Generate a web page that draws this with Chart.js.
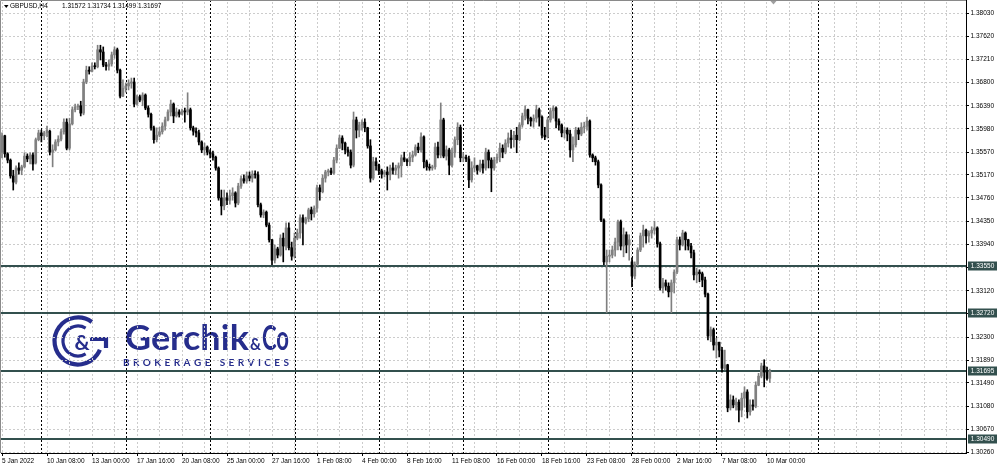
<!DOCTYPE html>
<html>
<head>
<meta charset="utf-8">
<script src="https://cdn.jsdelivr.net/npm/chart.js@4.4.1/dist/chart.umd.min.js"></script>
<style>
  html, body { margin: 0; padding: 0; background: #fff; }
  #wrap { width: 1000px; height: 469px; }
</style>
</head>
<body>
<div id="wrap"><canvas id="chart" width="1000" height="469"></canvas></div>
<script>
// ---- data ----
const symbol = 'GBPUSD,H4';

// x labels, one every 16 H4 bars starting at bar 0
const timeLabels = ['5 Jan 2022', '10 Jan 08:00', '13 Jan 00:00', '17 Jan 16:00', '20 Jan 08:00',
  '25 Jan 00:00', '27 Jan 16:00', '1 Feb 08:00', '4 Feb 00:00', '8 Feb 16:00', '11 Feb 08:00',
  '16 Feb 00:00', '18 Feb 16:00', '23 Feb 08:00', '28 Feb 00:00', '2 Mar 16:00', '7 Mar 08:00',
  '10 Mar 00:00'];
const labelStep = 16;
const gridStep = 8;
const gridEnd = 336;

// weekly period separators (bar index)
const weekStarts = [14, 44, 74, 104, 134, 164, 194, 224, 254, 290];

// price axis
const priceTicks = [1.38030, 1.37620, 1.37210, 1.36800, 1.36390, 1.35980, 1.35570, 1.35170,
  1.34760, 1.34350, 1.33940, 1.33530, 1.33120, 1.32710, 1.32300, 1.31890, 1.31490, 1.31080,
  1.30670, 1.30260];
const hiddenTicks = [1.33530, 1.32710];
const levels = [1.33550, 1.32720, 1.31695, 1.30490];

const open = [
  1.3557, 1.3586, 1.3554, 1.3543, 1.3515, 1.3504, 1.3529, 1.3525, 1.3531, 1.3550,
  1.3545, 1.3552, 1.3538, 1.3579, 1.3591, 1.3586, 1.3591, 1.3594, 1.3557, 1.3561,
  1.3575, 1.3580, 1.3593, 1.3610, 1.3564, 1.3607, 1.3632, 1.3637, 1.3639, 1.3626,
  1.3681, 1.3702, 1.3700, 1.3709, 1.3708, 1.3738, 1.3734, 1.3711, 1.3709, 1.3713,
  1.3729, 1.3738, 1.3702, 1.3656, 1.3670, 1.3674, 1.3679, 1.3681, 1.3642, 1.3655,
  1.3649, 1.3658, 1.3635, 1.3624, 1.3600, 1.3579, 1.3587, 1.3593, 1.3603, 1.3614,
  1.3628, 1.3642, 1.3621, 1.3628, 1.3624, 1.3630, 1.3628, 1.3632, 1.3600, 1.3594,
  1.3591, 1.3575, 1.3561, 1.3566, 1.3557, 1.3554, 1.3548, 1.3529, 1.3476, 1.3462,
  1.3476, 1.3472, 1.3480, 1.3485, 1.3467, 1.3497, 1.3510, 1.3506, 1.3515, 1.3511,
  1.3518, 1.3517, 1.3464, 1.3446, 1.3451, 1.3428, 1.3402, 1.3366, 1.3386, 1.3375,
  1.3405, 1.3391, 1.3423, 1.3388, 1.3373, 1.3405, 1.3414, 1.3441, 1.3433, 1.3439,
  1.3455, 1.3448, 1.3458, 1.3494, 1.3487, 1.3511, 1.3522, 1.3524, 1.3520, 1.3543,
  1.3564, 1.3582, 1.3573, 1.3561, 1.3557, 1.3534, 1.3614, 1.3596, 1.3605, 1.3610,
  1.3600, 1.3568, 1.3511, 1.3540, 1.3533, 1.3524, 1.3518, 1.3522, 1.3517, 1.3529,
  1.3525, 1.3529, 1.3533, 1.3547, 1.3543, 1.3540, 1.3548, 1.3552, 1.3566, 1.3561,
  1.3584, 1.3540, 1.3531, 1.3529, 1.3531, 1.3566, 1.3552, 1.3614, 1.3550, 1.3561,
  1.3534, 1.3556, 1.3579, 1.3601, 1.3547, 1.3548, 1.3545, 1.3508, 1.3529, 1.3533,
  1.3525, 1.3536, 1.3529, 1.3557, 1.3543, 1.3529, 1.3543, 1.3548, 1.3564, 1.3557,
  1.3573, 1.3582, 1.3579, 1.3587, 1.3579, 1.3605, 1.3621, 1.3632, 1.3617, 1.3612,
  1.3617, 1.3632, 1.3619, 1.3587, 1.3584, 1.3614, 1.3630, 1.3635, 1.3612, 1.3605,
  1.3591, 1.3596, 1.3589, 1.3561, 1.3570, 1.3596, 1.3589, 1.3601, 1.3603, 1.3612,
  1.3552, 1.3547, 1.3540, 1.3499, 1.3437, 1.3363, 1.3373, 1.3375, 1.3384, 1.3398,
  1.3434, 1.3391, 1.3411, 1.3393, 1.3363, 1.3338, 1.3359, 1.3384, 1.3409, 1.3419,
  1.3409, 1.3414, 1.3419, 1.3423, 1.3395, 1.3317, 1.3326, 1.3320, 1.3310, 1.3326,
  1.3345, 1.3402, 1.3393, 1.3414, 1.3402, 1.3391, 1.3379, 1.3340, 1.3345, 1.3342,
  1.3331, 1.3306, 1.3232, 1.3243, 1.3216, 1.3221, 1.3207, 1.3175, 1.3181, 1.3105,
  1.3119, 1.3110, 1.3115, 1.3101, 1.3122, 1.3133, 1.3098, 1.3110, 1.3108, 1.3145,
  1.3161, 1.3179, 1.3168, 1.31572];

const high = [
  1.3591, 1.3587, 1.3556, 1.3545, 1.3525, 1.3533, 1.3538, 1.3534, 1.3556, 1.3554,
  1.3556, 1.3556, 1.3582, 1.3596, 1.3596, 1.3594, 1.3603, 1.3596, 1.3570, 1.3579,
  1.3586, 1.3598, 1.3616, 1.3616, 1.3617, 1.3637, 1.3642, 1.3642, 1.3647, 1.3686,
  1.3709, 1.3708, 1.3715, 1.3715, 1.3746, 1.3746, 1.3743, 1.3716, 1.3720, 1.3734,
  1.3743, 1.3741, 1.3704, 1.3685, 1.3679, 1.3685, 1.3688, 1.3688, 1.3658, 1.3658,
  1.3662, 1.3660, 1.3639, 1.3626, 1.3603, 1.3600, 1.3601, 1.3609, 1.3619, 1.3632,
  1.3649, 1.3644, 1.3635, 1.3632, 1.3633, 1.3635, 1.3662, 1.3635, 1.3603, 1.3600,
  1.3596, 1.3577, 1.3573, 1.3568, 1.3561, 1.3559, 1.3550, 1.3531, 1.3490, 1.3490,
  1.3485, 1.3490, 1.3494, 1.3487, 1.3502, 1.3515, 1.3517, 1.3522, 1.3522, 1.3524,
  1.3524, 1.3522, 1.3467, 1.3455, 1.3453, 1.3432, 1.3403, 1.3393, 1.3389, 1.3411,
  1.3414, 1.3432, 1.3432, 1.3398, 1.3414, 1.3421, 1.3446, 1.3446, 1.3442, 1.3458,
  1.3460, 1.3462, 1.3499, 1.3499, 1.3517, 1.3525, 1.3527, 1.3529, 1.3548, 1.3570,
  1.3587, 1.3586, 1.3575, 1.3566, 1.3561, 1.3628, 1.3619, 1.3610, 1.3614, 1.3616,
  1.3601, 1.3579, 1.3548, 1.3547, 1.3536, 1.3527, 1.3525, 1.3531, 1.3534, 1.3538,
  1.3534, 1.3538, 1.3552, 1.3557, 1.3545, 1.3556, 1.3559, 1.3570, 1.3573, 1.3591,
  1.3586, 1.3543, 1.3536, 1.3534, 1.3573, 1.3575, 1.3644, 1.3617, 1.3568, 1.3564,
  1.3564, 1.3584, 1.3609, 1.3605, 1.3556, 1.3552, 1.3550, 1.3540, 1.3547, 1.3534,
  1.3543, 1.3543, 1.3564, 1.3561, 1.3547, 1.3548, 1.3554, 1.3573, 1.3570, 1.3579,
  1.3591, 1.3596, 1.3594, 1.3601, 1.3609, 1.3626, 1.3639, 1.3633, 1.3619, 1.3623,
  1.3640, 1.3635, 1.3621, 1.3601, 1.3619, 1.3635, 1.3639, 1.3637, 1.3616, 1.3607,
  1.3601, 1.3600, 1.3596, 1.3584, 1.3601, 1.3600, 1.3609, 1.3610, 1.3619, 1.3614,
  1.3554, 1.3550, 1.3543, 1.3501, 1.3439, 1.3384, 1.3384, 1.3391, 1.3405, 1.3437,
  1.3437, 1.3423, 1.3416, 1.3411, 1.3370, 1.3363, 1.3388, 1.3414, 1.3428, 1.3421,
  1.3418, 1.3425, 1.3435, 1.3425, 1.3398, 1.3334, 1.3331, 1.3326, 1.3331, 1.3349,
  1.3407, 1.3407, 1.3419, 1.3416, 1.3403, 1.3396, 1.3384, 1.3352, 1.3349, 1.3345,
  1.3336, 1.3308, 1.3248, 1.3246, 1.3228, 1.3221, 1.3212, 1.3207, 1.3182, 1.3128,
  1.3126, 1.3122, 1.3119, 1.3131, 1.3142, 1.3137, 1.3119, 1.3119, 1.3151, 1.3166,
  1.3184, 1.3190, 1.3177, 1.31734];

const low = [
  1.3547, 1.3548, 1.3538, 1.3511, 1.3490, 1.3501, 1.3518, 1.3517, 1.3529, 1.3540,
  1.3536, 1.3525, 1.3536, 1.3577, 1.3575, 1.3579, 1.3584, 1.3552, 1.3531, 1.3559,
  1.3568, 1.3577, 1.3589, 1.3561, 1.3561, 1.3605, 1.3628, 1.3632, 1.3621, 1.3623,
  1.3678, 1.3695, 1.3699, 1.3704, 1.3706, 1.3720, 1.3708, 1.3702, 1.3702, 1.3709,
  1.3723, 1.3697, 1.3653, 1.3655, 1.3663, 1.3667, 1.3670, 1.3637, 1.3640, 1.3646,
  1.3639, 1.3632, 1.3619, 1.3596, 1.3573, 1.3575, 1.3584, 1.3589, 1.3596, 1.3612,
  1.3621, 1.3609, 1.3619, 1.3619, 1.3623, 1.3610, 1.3623, 1.3596, 1.3587, 1.3584,
  1.3570, 1.3556, 1.3552, 1.3552, 1.3547, 1.3543, 1.3525, 1.3472, 1.3446, 1.3455,
  1.3464, 1.3465, 1.3472, 1.3460, 1.3464, 1.3493, 1.3502, 1.3502, 1.3506, 1.3504,
  1.3511, 1.3460, 1.3442, 1.3441, 1.3425, 1.3398, 1.3358, 1.3361, 1.3370, 1.3373,
  1.3363, 1.3384, 1.3384, 1.3366, 1.3370, 1.3402, 1.3405, 1.3393, 1.3430, 1.3434,
  1.3437, 1.3442, 1.3451, 1.3472, 1.3485, 1.3504, 1.3515, 1.3517, 1.3518, 1.3538,
  1.3563, 1.3561, 1.3554, 1.3550, 1.3529, 1.3531, 1.3582, 1.3584, 1.3596, 1.3593,
  1.3564, 1.3504, 1.3508, 1.3525, 1.3517, 1.3511, 1.3513, 1.3490, 1.3508, 1.3518,
  1.3517, 1.3511, 1.3513, 1.3540, 1.3533, 1.3533, 1.3540, 1.3550, 1.3556, 1.3557,
  1.3529, 1.3525, 1.3525, 1.3525, 1.3527, 1.3547, 1.3547, 1.3547, 1.3543, 1.3517,
  1.3531, 1.3548, 1.3570, 1.3540, 1.3540, 1.3540, 1.3494, 1.3504, 1.3522, 1.3518,
  1.3522, 1.3520, 1.3525, 1.3529, 1.3487, 1.3525, 1.3538, 1.3540, 1.3547, 1.3554,
  1.3566, 1.3564, 1.3566, 1.3556, 1.3577, 1.3601, 1.3614, 1.3607, 1.3603, 1.3601,
  1.3610, 1.3603, 1.3582, 1.3579, 1.3582, 1.3610, 1.3617, 1.3600, 1.3596, 1.3584,
  1.3582, 1.3577, 1.3548, 1.3540, 1.3566, 1.3579, 1.3586, 1.3591, 1.3596, 1.3548,
  1.3540, 1.3534, 1.3494, 1.3434, 1.3358, 1.3273, 1.3363, 1.3370, 1.3373, 1.3384,
  1.3384, 1.3372, 1.3379, 1.3366, 1.3319, 1.3333, 1.3356, 1.3381, 1.3389, 1.3396,
  1.3398, 1.3405, 1.3412, 1.3389, 1.3313, 1.3308, 1.3313, 1.3301, 1.3273, 1.3308,
  1.3342, 1.3384, 1.3391, 1.3384, 1.3384, 1.3370, 1.3331, 1.3326, 1.3328, 1.3319,
  1.3301, 1.3225, 1.3222, 1.3207, 1.3193, 1.3195, 1.3168, 1.3172, 1.3098, 1.3101,
  1.3105, 1.3101, 1.3080, 1.3089, 1.3106, 1.3087, 1.3092, 1.3101, 1.3105, 1.3144,
  1.3158, 1.3142, 1.3154, 1.31499];

const close = [
  1.3586, 1.3554, 1.3543, 1.3515, 1.3504, 1.3529, 1.3525, 1.3531, 1.3550, 1.3545,
  1.3552, 1.3536, 1.3579, 1.3591, 1.3586, 1.3591, 1.3596, 1.3557, 1.3561, 1.3575,
  1.3580, 1.3593, 1.3610, 1.3564, 1.3607, 1.3632, 1.3637, 1.3639, 1.3626, 1.3681,
  1.3702, 1.3700, 1.3709, 1.3708, 1.3738, 1.3734, 1.3711, 1.3709, 1.3713, 1.3729,
  1.3738, 1.3702, 1.3656, 1.3670, 1.3674, 1.3679, 1.3681, 1.3642, 1.3655, 1.3649,
  1.3658, 1.3635, 1.3624, 1.3600, 1.3579, 1.3587, 1.3593, 1.3603, 1.3614, 1.3628,
  1.3642, 1.3621, 1.3628, 1.3624, 1.3630, 1.3628, 1.3632, 1.3600, 1.3594, 1.3591,
  1.3575, 1.3561, 1.3566, 1.3557, 1.3554, 1.3548, 1.3529, 1.3476, 1.3462, 1.3476,
  1.3472, 1.3480, 1.3485, 1.3467, 1.3497, 1.3510, 1.3506, 1.3515, 1.3511, 1.3518,
  1.3517, 1.3464, 1.3446, 1.3451, 1.3428, 1.3402, 1.3366, 1.3386, 1.3375, 1.3405,
  1.3391, 1.3423, 1.3388, 1.3373, 1.3405, 1.3414, 1.3441, 1.3433, 1.3439, 1.3455,
  1.3448, 1.3458, 1.3494, 1.3487, 1.3511, 1.3522, 1.3524, 1.3520, 1.3543, 1.3564,
  1.3582, 1.3573, 1.3561, 1.3557, 1.3534, 1.3614, 1.3596, 1.3605, 1.3610, 1.3600,
  1.3568, 1.3511, 1.3540, 1.3533, 1.3524, 1.3518, 1.3522, 1.3517, 1.3529, 1.3525,
  1.3529, 1.3533, 1.3547, 1.3543, 1.3540, 1.3548, 1.3552, 1.3566, 1.3561, 1.3584,
  1.3540, 1.3531, 1.3529, 1.3531, 1.3566, 1.3552, 1.3614, 1.3550, 1.3561, 1.3534,
  1.3556, 1.3579, 1.3601, 1.3547, 1.3548, 1.3545, 1.3508, 1.3529, 1.3533, 1.3525,
  1.3536, 1.3529, 1.3557, 1.3543, 1.3529, 1.3543, 1.3548, 1.3564, 1.3557, 1.3573,
  1.3582, 1.3579, 1.3587, 1.3579, 1.3605, 1.3621, 1.3632, 1.3617, 1.3612, 1.3617,
  1.3632, 1.3619, 1.3587, 1.3584, 1.3614, 1.3630, 1.3635, 1.3612, 1.3605, 1.3591,
  1.3596, 1.3589, 1.3561, 1.3570, 1.3596, 1.3589, 1.3601, 1.3603, 1.3612, 1.3552,
  1.3547, 1.3540, 1.3499, 1.3437, 1.3363, 1.3373, 1.3375, 1.3384, 1.3398, 1.3434,
  1.3391, 1.3411, 1.3393, 1.3402, 1.3338, 1.3359, 1.3384, 1.3409, 1.3419, 1.3409,
  1.3414, 1.3419, 1.3423, 1.3395, 1.3317, 1.3326, 1.3320, 1.3310, 1.3326, 1.3345,
  1.3402, 1.3393, 1.3414, 1.3402, 1.3391, 1.3379, 1.3340, 1.3345, 1.3342, 1.3331,
  1.3306, 1.3232, 1.3243, 1.3216, 1.3221, 1.3207, 1.3175, 1.3181, 1.3105, 1.3119,
  1.3110, 1.3115, 1.3101, 1.3122, 1.3133, 1.3098, 1.3110, 1.3108, 1.3145, 1.3161,
  1.3179, 1.3168, 1.3157, 1.31697];

// ---- styling ----
const FONT = '"Liberation Sans", Arial, sans-serif';
const BULL = '#808080';
const BEAR = '#000000';
const LEVEL = '#33504e';
const NAVY = '#262d8c';

const bars = close.map((_, i) => i);
const isBull = i => close[i] >= open[i];
const gridBars = [];
for (let v = 0; v <= gridEnd; v += gridStep) gridBars.push(v);
const isLabelled = v => v % labelStep === 0 && v / labelStep < timeLabels.length;

function fitText(ctx, txt, x, y, w) {
  const m = ctx.measureText(txt).width;
  ctx.save();
  ctx.translate(x, y);
  ctx.scale(w / m, 1);
  ctx.fillText(txt, 0, 0);
  ctx.restore();
}

function spacedText(ctx, txt, x, y, w) {
  const chars = [...txt];
  const widths = chars.map(c => ctx.measureText(c).width);
  const total = widths.reduce((a, b) => a + b, 0);
  const gap = (w - total) / (chars.length - 1);
  let px = x;
  chars.forEach((c, i) => { ctx.fillText(c, px, y); px += widths[i] + gap; });
}

function drawLogo(ctx) {
  ctx.save();
  ctx.strokeStyle = NAVY;
  ctx.fillStyle = NAVY;
  const cx = 78, cy = 341;
  // outer C / G
  ctx.lineWidth = 4.2;
  ctx.beginPath();
  ctx.arc(cx, cy, 23.5, -0.3 * Math.PI, 0.12 * Math.PI, true);
  ctx.stroke();
  ctx.beginPath();
  ctx.moveTo(cx + 12, cy - 2);
  ctx.lineTo(cx + 28, cy - 2);
  ctx.lineTo(cx + 28, cy + 7);
  ctx.stroke();
  // inner C
  ctx.lineWidth = 3.2;
  ctx.beginPath();
  ctx.arc(cx, cy, 15, -0.33 * Math.PI, 0.33 * Math.PI, true);
  ctx.stroke();
  // ampersand
  ctx.font = 'bold 21px Lato, "Open Sans", sans-serif';
  ctx.textAlign = 'center';
  ctx.textBaseline = 'middle';
  ctx.fillText('&', cx + 4, cy + 2);
  // word mark
  ctx.textAlign = 'left';
  ctx.textBaseline = 'alphabetic';
  ctx.font = 'bold 35px Lato, "Open Sans", sans-serif';
  fitText(ctx, 'Gerchik', 125, 350, 124);
  ctx.font = 'bold 17px Lato, "Open Sans", sans-serif';
  fitText(ctx, '&', 250, 350, 11);
  ctx.font = 'bold 35px Lato, "Open Sans", sans-serif';
  fitText(ctx, 'Co', 262, 350, 27);
  ctx.font = 'bold 10px Lato, "Open Sans", sans-serif';
  spacedText(ctx, 'BROKERAGE SERVICES', 123, 365.5, 166);
  ctx.restore();
}

const mt4Plugin = {
  id: 'mt4',
  beforeDraw(chart) {
    const ctx = chart.ctx;
    ctx.save();
    ctx.fillStyle = '#fff';
    ctx.fillRect(0, 0, chart.width, chart.height);
    ctx.restore();
    drawLogo(ctx);
  },
  beforeDatasetsDraw(chart) {
    const {ctx, chartArea: a, scales: {x, y}} = chart;
    ctx.save();
    // period separators
    ctx.strokeStyle = '#000';
    ctx.lineWidth = 1;
    ctx.setLineDash([2, 2]);
    weekStarts.forEach(b => {
      const px = Math.round(x.getPixelForValue(b)) + 0.5;
      ctx.beginPath();
      ctx.moveTo(px, a.top - 2);
      ctx.lineTo(px, a.bottom);
      ctx.stroke();
    });
    // horizontal levels
    ctx.setLineDash([]);
    ctx.strokeStyle = LEVEL;
    ctx.lineWidth = 2;
    levels.forEach(v => {
      const py = Math.round(y.getPixelForValue(v));
      ctx.beginPath();
      ctx.moveTo(a.left - 1, py);
      ctx.lineTo(a.right, py);
      ctx.stroke();
    });
    ctx.restore();
  },
  afterDraw(chart) {
    const {ctx, chartArea: a, scales: {x, y}} = chart;
    ctx.save();
    // frame top / left
    ctx.strokeStyle = '#8a8a8a';
    ctx.lineWidth = 1;
    ctx.beginPath();
    ctx.moveTo(0.5, a.bottom);
    ctx.lineTo(0.5, 0.5);
    ctx.lineTo(a.right, 0.5);
    ctx.stroke();
    // axis line up to the very top
    ctx.strokeStyle = '#000';
    ctx.beginPath();
    ctx.moveTo(a.right + 0.5, 0);
    ctx.lineTo(a.right + 0.5, a.top);
    ctx.stroke();
    // chart shift marker
    const sx = x.getPixelForValue(274.3);
    ctx.fillStyle = '#a0a0a0';
    ctx.beginPath();
    ctx.moveTo(sx - 3, 1);
    ctx.lineTo(sx + 3, 1);
    ctx.lineTo(sx, 4.5);
    ctx.closePath();
    ctx.fill();
    // level price labels on the axis
    ctx.font = '6.5px ' + FONT;
    ctx.textBaseline = 'middle';
    ctx.textAlign = 'center';
    levels.forEach(v => {
      const py = Math.round(y.getPixelForValue(v));
      ctx.fillStyle = LEVEL;
      ctx.fillRect(a.right + 2, py - 4.5, 29, 9);
      ctx.fillStyle = '#fff';
      ctx.fillText(v.toFixed(5), a.right + 16.5, py + 0.5);
    });
    // header: symbol + last OHLC
    const last = close.length - 1;
    ctx.fillStyle = '#000';
    ctx.beginPath();
    ctx.moveTo(4, 5);
    ctx.lineTo(8.5, 5);
    ctx.lineTo(6.25, 8);
    ctx.closePath();
    ctx.fill();
    ctx.textAlign = 'left';
    ctx.fillText(symbol, 10, 6.5);
    ctx.fillText([open[last], high[last], low[last], close[last]].map(v => v.toFixed(5)).join(' '), 62, 6.5);
    ctx.restore();
  }
};

new Chart(document.getElementById('chart'), {
  type: 'bar',
  data: {
    datasets: [
      {
        label: 'body',
        order: 1,
        data: bars.map(i => ({x: i, y: [open[i], close[i]]})),
        backgroundColor: c => isBull(c.dataIndex) ? BULL : BEAR,
        barThickness: 2,
        maxBarThickness: 2,
        minBarLength: 1,
        grouped: false
      },
      {
        label: 'wick',
        order: 2,
        data: bars.map(i => ({x: i, y: [low[i], high[i]]})),
        backgroundColor: c => isBull(c.dataIndex) ? BULL : BEAR,
        barThickness: 1,
        maxBarThickness: 1,
        grouped: false
      }
    ]
  },
  options: {
    responsive: false,
    devicePixelRatio: 1,
    animation: false,
    events: [],
    layout: { padding: { top: 2, left: 1, right: 0, bottom: 0 } },
    plugins: { legend: { display: false }, tooltip: { enabled: false } },
    scales: {
      x: {
        type: 'linear',
        min: -0.356,
        max: 342.756,
        offset: false,
        afterBuildTicks: s => { s.ticks = gridBars.map(v => ({value: v})); },
        afterFit: s => { s.height = 16; s.paddingLeft = 0; s.paddingRight = 0; },
        grid: {
          color: '#cccccc',
          offset: false,
          tickLength: 3,
          tickColor: c => (c.tick && isLabelled(c.tick.value)) ? '#000' : 'rgba(0,0,0,0)'
        },
        border: { color: '#000', width: 1, dash: [2, 2] },
        ticks: {
          autoSkip: false,
          maxRotation: 0,
          minRotation: 0,
          align: 'start',
          padding: 1,
          color: '#000',
          font: { family: FONT, size: 6.5 },
          callback: v => isLabelled(v) ? timeLabels[v / labelStep] : ''
        }
      },
      y: {
        type: 'linear',
        position: 'right',
        min: 1.302512,
        max: 1.382245,
        afterBuildTicks: s => { s.ticks = priceTicks.map(v => ({value: v})); },
        afterFit: s => { s.width = 34; s.paddingTop = 0; s.paddingBottom = 0; },
        grid: { color: '#cccccc', tickLength: 3, tickColor: '#000' },
        border: { color: '#000', width: 1, dash: [2, 2] },
        ticks: {
          autoSkip: false,
          padding: 1.5,
          color: '#000',
          font: { family: FONT, size: 6.5 },
          callback: v => hiddenTicks.includes(v) ? '' : v.toFixed(5)
        }
      }
    }
  },
  plugins: [mt4Plugin]
});
</script>
</body>
</html>
